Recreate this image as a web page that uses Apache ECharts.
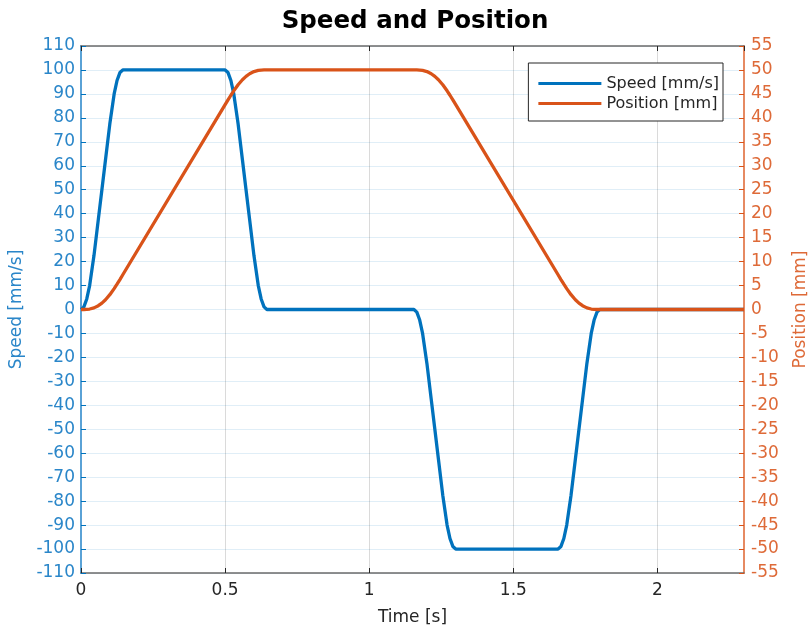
<!DOCTYPE html>
<html>
<head>
<meta charset="utf-8">
<script src="https://cdn.jsdelivr.net/npm/echarts@6/dist/echarts.min.js"></script>
<style>
html,body{margin:0;padding:0;background:#fff;}
#chart{width:812px;height:631px;}
</style>
</head>
<body>
<div id="chart"></div>
<script>
// ---- data ----
const titleText = 'Speed and Position';
const xLabel = 'Time [s]';
const yLeftLabel = 'Speed [mm/s]';
const yRightLabel = 'Position [mm]';
const speedName = 'Speed [mm/s]';
const positionName = 'Position [mm]';

const speedT = [0, 0.01, 0.02, 0.03, 0.045, 0.06, 0.0725, 0.085, 0.1, 0.115, 0.125, 0.135, 0.145,
  0.5, 0.51, 0.52, 0.53, 0.545, 0.56, 0.5725, 0.585, 0.6, 0.615, 0.625, 0.635, 0.645,
  1.155, 1.165, 1.175, 1.185, 1.2, 1.215, 1.2275, 1.24, 1.255, 1.27, 1.28, 1.29, 1.3,
  1.655, 1.665, 1.675, 1.685, 1.7, 1.715, 1.7275, 1.74, 1.755, 1.77, 1.78, 1.79, 1.8,
  2.3];
const speedV = [0, 1.1, 4.4, 10, 22.5, 37.5, 50, 62.5, 77.5, 90, 95.6, 98.9, 100,
  100, 98.9, 95.6, 90, 77.5, 62.5, 50, 37.5, 22.5, 10, 4.4, 1.1, 0,
  0, -1.1, -4.4, -10, -22.5, -37.5, -50, -62.5, -77.5, -90, -95.6, -98.9, -100,
  -100, -98.9, -95.6, -90, -77.5, -62.5, -50, -37.5, -22.5, -10, -4.4, -1.1, 0,
  0];

const posT = [0, 0.01, 0.02, 0.03, 0.045, 0.06, 0.0725, 0.085, 0.1, 0.115, 0.125, 0.135, 0.145,
  0.5, 0.51, 0.52, 0.53, 0.545, 0.56, 0.5725, 0.585, 0.6, 0.615, 0.625, 0.635, 0.645,
  1.155, 1.165, 1.175, 1.185, 1.2, 1.215, 1.2275, 1.24, 1.255, 1.27, 1.28, 1.29, 1.3,
  1.655, 1.665, 1.675, 1.685, 1.7, 1.715, 1.7275, 1.74, 1.755, 1.77, 1.78, 1.79, 1.8,
  2.3];
const posV = [0, 0.004, 0.03, 0.1, 0.34, 0.79, 1.33, 2.04, 3.09, 4.35, 5.28, 6.25, 7.25,
  42.75, 43.75, 44.72, 45.65, 46.91, 47.96, 48.67, 49.21, 49.66, 49.9, 49.97, 50, 50,
  50, 50, 49.97, 49.9, 49.66, 49.21, 48.67, 47.96, 46.91, 45.65, 44.72, 43.75, 42.75,
  7.25, 6.25, 5.28, 4.35, 3.09, 2.04, 1.33, 0.79, 0.34, 0.1, 0.03, 0.004, 0,
  0];

const xMin = 0, xMax = 2.3, xStep = 0.5;
const yLMin = -110, yLMax = 110, yLStep = 10;
const yRMin = -55, yRMax = 55, yRStep = 5;

// ---- styles ----
const BLUE = '#0072BD';
const ORANGE = '#D95319';
const DARK = '#262626';
const FONT = '"DejaVu Sans", "Liberation Sans", Arial, sans-serif';

const speedData = speedT.map((t, i) => [t, speedV[i]]);
const posData = posT.map((t, i) => [t, posV[i]]);

const chart = echarts.init(document.getElementById('chart'), null, {renderer: 'canvas'});
chart.setOption({
  animation: false,
  backgroundColor: '#ffffff',
  textStyle: {fontFamily: FONT},
  title: {
    text: titleText, left: 410, top: 4, textAlign: 'center',
    textStyle: {fontFamily: FONT, fontSize: 24.5, fontWeight: 'bold', color: '#000'}
  },
  grid: {left: 81, right: 68, top: 46, bottom: 58, containLabel: false, outerBoundsMode: 'none'},
  legend: {
    orient: 'vertical', right: 89, top: 63,
    backgroundColor: '#fff', borderColor: DARK, borderWidth: 1,
    padding: [12, 4, 9, 10], itemGap: 3, itemWidth: 63, itemHeight: 3,
    icon: 'rect', align: 'left',
    textStyle: {fontFamily: FONT, fontSize: 16, lineHeight: 17, color: DARK},
    data: [speedName, positionName]
  },
  xAxis: [{
    type: 'value', min: xMin, max: xMax, interval: xStep,
    name: xLabel, nameLocation: 'middle', nameGap: 36,
    nameTextStyle: {fontFamily: FONT, fontSize: 17, color: DARK},
    axisLine: {show: true, onZero: false, lineStyle: {color: '#6b6b6b', width: 1.5}},
    axisTick: {show: true, inside: true, length: 5, lineStyle: {color: DARK}},
    axisLabel: {fontFamily: FONT, fontSize: 17, color: DARK, margin: 9, showMaxLabel: false},
    splitLine: {show: true, lineStyle: {color: 'rgba(38,38,38,0.17)', width: 1}}
  }, {
    type: 'value', min: xMin, max: xMax, interval: xStep, position: 'top',
    axisLine: {show: true, onZero: false, lineStyle: {color: '#6b6b6b', width: 1.5}},
    axisTick: {show: true, inside: true, length: 5, lineStyle: {color: DARK}},
    axisLabel: {show: false}, splitLine: {show: false}
  }],
  yAxis: [{
    type: 'value', min: yLMin, max: yLMax, interval: yLStep, position: 'left',
    name: yLeftLabel, nameLocation: 'middle', nameGap: 49, nameRotate: 90,
    nameTextStyle: {fontFamily: FONT, fontSize: 17, color: '#2a86c9'},
    axisLine: {show: true, onZero: false, lineStyle: {color: '#5aa2d6', width: 2}},
    axisTick: {show: true, inside: true, length: 5, lineStyle: {color: BLUE}},
    axisLabel: {fontFamily: FONT, fontSize: 17, color: '#2a86c9', margin: 6},
    splitLine: {show: true, lineStyle: {color: 'rgba(0,114,189,0.12)', width: 1}}
  }, {
    type: 'value', min: yRMin, max: yRMax, interval: yRStep, position: 'right',
    name: yRightLabel, nameLocation: 'middle', nameGap: 48, nameRotate: 90,
    nameTextStyle: {fontFamily: FONT, fontSize: 17, color: '#de6a38'},
    axisLine: {show: true, onZero: false, lineStyle: {color: '#e68a62', width: 2}},
    axisTick: {show: true, inside: true, length: 5, lineStyle: {color: ORANGE}},
    axisLabel: {fontFamily: FONT, fontSize: 17, color: '#de6a38', margin: 7},
    splitLine: {show: false}
  }],
  series: [{
    name: speedName, type: 'line', xAxisIndex: 0, yAxisIndex: 0,
    data: speedData, showSymbol: false, smooth: false,
    lineStyle: {color: BLUE, width: 3.3}, itemStyle: {color: BLUE}, z: 3
  }, {
    name: positionName, type: 'line', xAxisIndex: 0, yAxisIndex: 1,
    data: posData, showSymbol: false, smooth: false,
    lineStyle: {color: ORANGE, width: 3.3}, itemStyle: {color: ORANGE}, z: 4
  }]
});
</script>
</body>
</html>
